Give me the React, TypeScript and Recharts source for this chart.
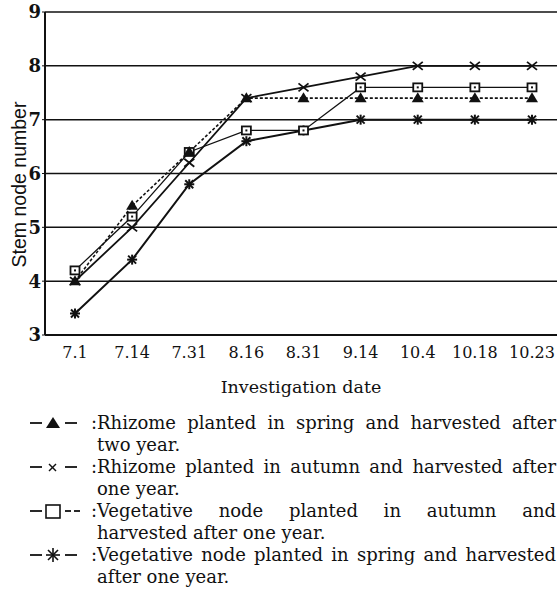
import { LineChart, Line, XAxis, YAxis, CartesianGrid } from 'recharts';

const dates = ['7.1', '7.14', '7.31', '8.16', '8.31', '9.14', '10.4', '10.18', '10.23'];
const rhizomeSpring = [4.0, 5.4, 6.4, 7.4, 7.4, 7.4, 7.4, 7.4, 7.4];
const rhizomeAutumn = [4.0, 5.0, 6.2, 7.4, 7.6, 7.8, 8.0, 8.0, 8.0];
const nodeAutumn = [4.2, 5.2, 6.4, 6.8, 6.8, 7.6, 7.6, 7.6, 7.6];
const nodeSpring = [3.4, 4.4, 5.8, 6.6, 6.8, 7.0, 7.0, 7.0, 7.0];
const yTicks = [3, 4, 5, 6, 7, 8, 9];

const legendItems = [
  { mark: 'triangle', lines: ['Rhizome planted in spring and harvested after', 'two year.'] },
  { mark: 'cross', lines: ['Rhizome planted in autumn and harvested after', 'one year.'] },
  { mark: 'square', lines: ['Vegetative node planted in autumn and', 'harvested after one year.'] },
  { mark: 'star', lines: ['Vegetative node planted in spring and harvested', 'after one year.'] },
];

const data = dates.map((name, i) => ({
  name,
  rs: rhizomeSpring[i],
  ra: rhizomeAutumn[i],
  na: nodeAutumn[i],
  ns: nodeSpring[i],
}));

const ink = '#111';
const serif = '"DejaVu Serif", serif';

function Marker({ type, cx, cy }: { type: string; cx: number; cy: number }) {
  if (type === 'triangle') {
    return <path d={`M${cx},${cy - 6} L${cx + 6},${cy + 4} L${cx - 6},${cy + 4} Z`} fill={ink} />;
  }
  if (type === 'cross') {
    return (
      <g stroke={ink} strokeWidth={1.8}>
        <line x1={cx - 5} y1={cy - 4} x2={cx + 5} y2={cy + 4} />
        <line x1={cx - 5} y1={cy + 4} x2={cx + 5} y2={cy - 4} />
      </g>
    );
  }
  if (type === 'square') {
    return (
      <g>
        <rect x={cx - 4.5} y={cy - 4} width={9} height={8} fill="#fff" stroke={ink} strokeWidth={1.8} />
        <rect x={cx - 1} y={cy - 1} width={2} height={2} fill={ink} />
      </g>
    );
  }
  return (
    <g stroke={ink} strokeWidth={2}>
      <line x1={cx - 5} y1={cy} x2={cx + 5} y2={cy} />
      <line x1={cx - 4} y1={cy - 4} x2={cx + 4} y2={cy + 4} />
      <line x1={cx - 4} y1={cy + 4} x2={cx + 4} y2={cy - 4} />
      <line x1={cx} y1={cy - 5} x2={cx} y2={cy + 5} />
    </g>
  );
}

const dotOf = (type: string) => (p: any) => (
  <Marker key={`${type}-${p.index}`} type={type} cx={p.cx} cy={p.cy} />
);

function XTitle(props: any) {
  const { x, y, width } = props.viewBox;
  return (
    <text x={x + width / 2} y={y + 58} textAnchor="middle" fill={ink} fontSize={17.5} fontFamily={serif}>
      Investigation date
    </text>
  );
}

function YTitle(props: any) {
  const { x, y, height } = props.viewBox;
  const cx = x + 19;
  const cy = y + height / 2 + 11;
  return (
    <text
      x={cx}
      y={cy}
      transform={`rotate(-90, ${cx}, ${cy})`}
      textAnchor="middle"
      dominantBaseline="central"
      fill={ink}
      fontSize={19.5}
      fontFamily='"Liberation Sans", Arial, sans-serif'
    >
      Stem node number
    </text>
  );
}

function LegendSymbol({ type }: { type: string }) {
  return (
    <svg width={60} height={22} style={{ display: 'block' }}>
      <line x1={0} y1={11} x2={12} y2={11} stroke={ink} strokeWidth={1.8} />
      {type === 'square' ? (
        <>
          <rect x={16} y={5} width={14} height={13} fill="none" stroke={ink} strokeWidth={1.6} />
          <line x1={35} y1={11} x2={41} y2={11} stroke={ink} strokeWidth={1.8} />
          <line x1={44} y1={11} x2={50} y2={11} stroke={ink} strokeWidth={1.8} />
        </>
      ) : (
        <>
          {type === 'triangle' && <path d="M23,5 L30,16 L16,16 Z" fill={ink} />}
          {type === 'cross' && (
            <g stroke={ink} strokeWidth={1.4}>
              <line x1={19} y1={8} x2={26} y2={15} />
              <line x1={19} y1={15} x2={26} y2={8} />
            </g>
          )}
          {type === 'star' && (
            <g stroke={ink} strokeWidth={1.6}>
              <line x1={16} y1={11} x2={30} y2={11} />
              <line x1={23} y1={4} x2={23} y2={18} />
              <line x1={18} y1={6} x2={28} y2={16} />
              <line x1={18} y1={16} x2={28} y2={6} />
            </g>
          )}
          <line x1={35} y1={11} x2={47} y2={11} stroke={ink} strokeWidth={1.8} />
        </>
      )}
    </svg>
  );
}

export default function App() {
  return (
    <div style={{ position: 'absolute', left: 0, top: 0, width: 559, height: 600, background: '#fff' }}>
      <LineChart width={559} height={400} data={data} margin={{ top: 12, right: 2, left: 0, bottom: 0 }}>
        <CartesianGrid vertical={false} stroke={ink} strokeWidth={1.5} />
        <XAxis
          dataKey="name"
          height={65}
          interval={0}
          padding={{ left: 30, right: 25 }}
          axisLine={{ stroke: ink, strokeWidth: 2 }}
          tickLine={false}
          tickMargin={6}
          tick={{ fill: ink, fontSize: 16, fontFamily: serif }}
          label={<XTitle />}
        />
        <YAxis
          width={45}
          domain={[3, 9]}
          ticks={yTicks}
          interval={0}
          axisLine={{ stroke: ink, strokeWidth: 2 }}
          tickLine={{ stroke: ink }}
          tickSize={3}
          tickMargin={1}
          tick={{ fill: ink, fontSize: 18, fontFamily: serif, fontWeight: 'bold' }}
          label={<YTitle />}
        />
        <YAxis
          yAxisId="r"
          orientation="right"
          width={0}
          domain={[3, 9]}
          tick={false}
          tickLine={false}
          axisLine={{ stroke: ink, strokeWidth: 2 }}
        />
        <Line
          dataKey="ns"
          stroke={ink}
          strokeWidth={2}
          dot={dotOf('star')}
          isAnimationActive={false}
        />
        <Line
          dataKey="na"
          stroke={ink}
          strokeWidth={1.3}
          dot={dotOf('square')}
          isAnimationActive={false}
        />
        <Line
          dataKey="ra"
          stroke={ink}
          strokeWidth={1.8}
          dot={dotOf('cross')}
          isAnimationActive={false}
        />
        <Line
          dataKey="rs"
          stroke={ink}
          strokeWidth={1.6}
          strokeDasharray="3 2"
          dot={dotOf('triangle')}
          isAnimationActive={false}
        />
      </LineChart>
      <div style={{ position: 'absolute', left: 30, top: 412, width: 526, fontFamily: serif, fontSize: 18, lineHeight: '22px', color: ink }}>
        {legendItems.map((item) => (
          <div key={item.mark} style={{ display: 'flex' }}>
            <div style={{ width: 61, flex: 'none' }}>
              <LegendSymbol type={item.mark} />
            </div>
            <div style={{ width: 6, flex: 'none' }}>:</div>
            <div style={{ flex: 1 }}>
              {item.lines.map((line, i) => (
                <div
                  key={i}
                  style={{ whiteSpace: 'nowrap', textAlign: 'justify', textAlignLast: i < item.lines.length - 1 ? 'justify' : 'left' }}
                >
                  {line}
                </div>
              ))}
            </div>
          </div>
        ))}
      </div>
    </div>
  );
}
